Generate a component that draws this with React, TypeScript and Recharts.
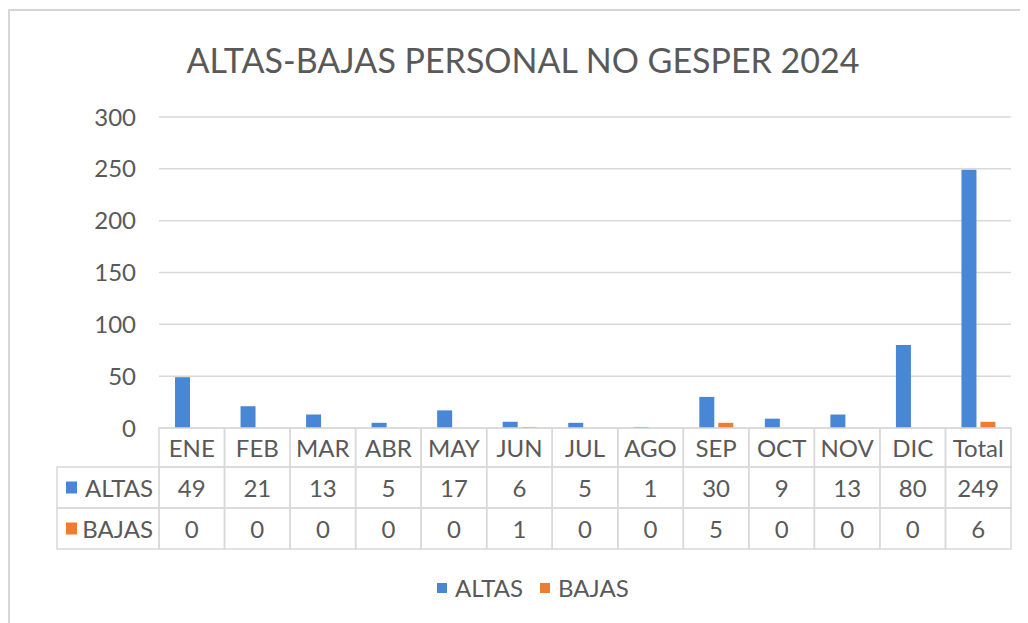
import { BarChart, Bar, XAxis, YAxis, CartesianGrid } from 'recharts';

const months = ['ENE', 'FEB', 'MAR', 'ABR', 'MAY', 'JUN', 'JUL', 'AGO', 'SEP', 'OCT', 'NOV', 'DIC', 'Total'];
const altas = [49, 21, 13, 5, 17, 6, 5, 1, 30, 9, 13, 80, 249];
const bajas = [0, 0, 0, 0, 0, 1, 0, 0, 5, 0, 0, 0, 6];
const yTicks = [0, 50, 100, 150, 200, 250, 300];

const series = [
  { key: 'ALTAS', values: altas, color: '#4787d6' },
  { key: 'BAJAS', values: bajas, color: '#ed7d31' },
];

const data = months.map((m, i) => ({ name: m, ALTAS: altas[i], BAJAS: bajas[i] }));

const W = 1020;
const H = 615;
const Y_W = 60;
const M = { top: 109, right: 17, left: 91, bottom: 74 };
const PLOT_W = W - M.left - Y_W - M.right;
const ROW_H = [39, 41, 41];
const LABEL_W = 102;
const GRID = '#d9d9d9';
const TEXT = '#595959';
const FONT = 'Lato, "Open Sans", sans-serif';

function TableTick(props: any) {
  const { x, y, payload, index } = props;
  const bw = PLOT_W / months.length;
  const x0 = x - bw / 2;
  const r1 = y + ROW_H[0];
  const r2 = r1 + ROW_H[1];
  const cells = [
    { top: y, h: ROW_H[0], text: payload.value },
    { top: r1, h: ROW_H[1], text: String(altas[index]) },
    { top: r2, h: ROW_H[2], text: String(bajas[index]) },
  ];
  return (
    <g fontFamily={FONT} fontSize={24} fill={TEXT}>
      {cells.map((c, i) => (
        <g key={i}>
          <rect x={x0} y={c.top} width={bw} height={c.h} fill="none" stroke={GRID} strokeWidth={1.5} />
          <text x={x} y={c.top + c.h / 2} textAnchor="middle" dominantBaseline="central" fill={TEXT}>
            {c.text}
          </text>
        </g>
      ))}
      {/* series labels on the left of the table */}
      {index === 0 &&
        series.map((s, i) => {
          const top = i === 0 ? r1 : r2;
          const h = ROW_H[i + 1];
          return (
            <g key={s.key}>
              <rect x={x0 - LABEL_W} y={top} width={LABEL_W} height={h} fill="none" stroke={GRID} strokeWidth={1.5} />
              <rect x={x0 - LABEL_W + 9} y={top + h / 2 - 6} width={11} height={12} fill={s.color} />
              <text x={x0 - 6} y={top + h / 2} textAnchor="end" dominantBaseline="central" fill={TEXT}>
                {s.key}
              </text>
            </g>
          );
        })}
    </g>
  );
}

export default function App() {
  return (
    <div style={{ position: 'relative', width: W, height: H, background: '#fff' }}>
      <div
        style={{
          position: 'absolute',
          left: 0,
          top: 1,
          right: 0,
          bottom: 0,
          borderTop: '2px solid #d6d6d6',
          borderLeft: '2px solid #d6d6d6',
        }}
      />
      <div
        style={{
          position: 'absolute',
          left: 15,
          width: 1000,
          top: 32,
          textAlign: 'center',
          fontFamily: FONT,
          fontWeight: 400,
          fontSize: 34,
          lineHeight: '40px',
          color: TEXT,
          whiteSpace: 'nowrap',
        }}
      >
        ALTAS-BAJAS PERSONAL NO GESPER 2024
      </div>
      <BarChart width={W} height={H} data={data} margin={M} barGap={4} barSize={15}>
        <CartesianGrid vertical={false} stroke={GRID} strokeWidth={1.5} />
        <XAxis
          dataKey="name"
          height={121}
          axisLine={false}
          tickLine={false}
          tickSize={0}
          tickMargin={0}
          interval={0}
          tick={TableTick}
        />
        <YAxis
          width={Y_W}
          domain={[0, 300]}
          ticks={yTicks}
          axisLine={false}
          tickLine={false}
          tickSize={0}
          tickMargin={23}
          tick={{ fontSize: 24, fill: TEXT, fontFamily: FONT }}
        />
        {series.map((s) => (
          <Bar key={s.key} dataKey={s.key} fill={s.color} isAnimationActive={false} />
        ))}
      </BarChart>
      {/* legend */}
      <div
        style={{
          position: 'absolute',
          left: 429,
          top: 565,
          display: 'flex',
          gap: 17,
          fontFamily: FONT,
          fontSize: 24,
          lineHeight: '30px',
          color: TEXT,
        }}
      >
        {series.map((s) => (
          <div key={s.key} style={{ display: 'flex', alignItems: 'center', gap: 8 }}>
            <span style={{ display: 'inline-block', width: 10, height: 10, background: s.color }} />
            {s.key}
          </div>
        ))}
      </div>
    </div>
  );
}
